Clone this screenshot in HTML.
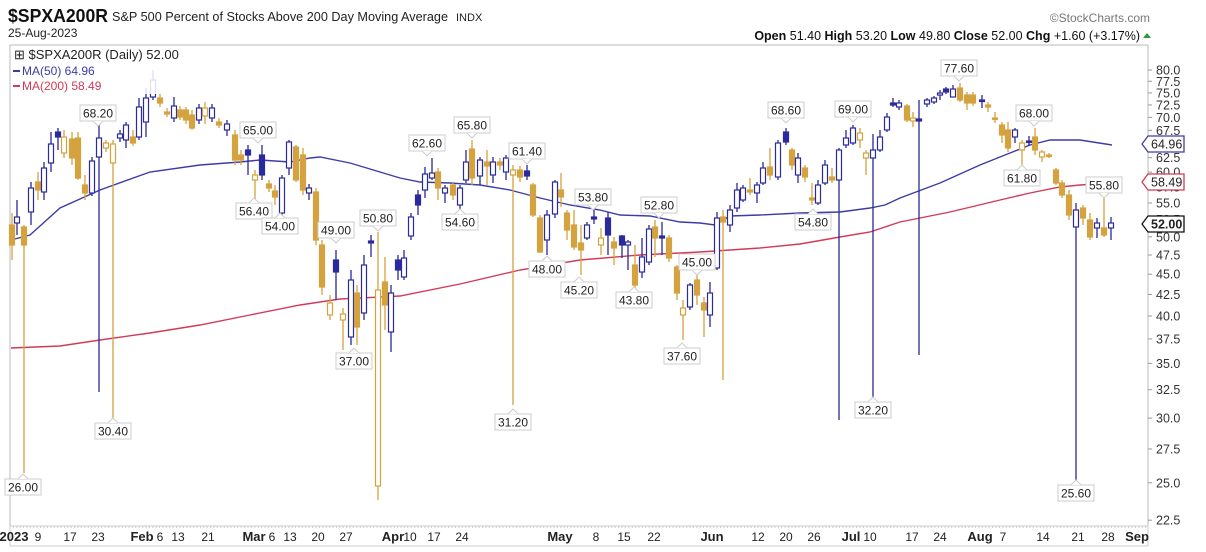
<!DOCTYPE html>
<html><head><meta charset="utf-8"><style>
body{margin:0;background:#fff;width:1206px;height:552px;overflow:hidden;font-family:"Liberation Sans",sans-serif}
svg{display:block}
</style></head><body>
<svg id="s" width="1206" height="552" xmlns="http://www.w3.org/2000/svg" font-family="Liberation Sans, sans-serif"></svg>
<script>
const s=document.getElementById('s');let h='';
const B='#2a2a9c',G='#d4a23e',MA='#3c3ca6',RD='#d23a56';
const L=10,R=1148,T=45,BOT=526;
function Y(v){return 70+(Math.log(80)-Math.log(v))*354.9;}
h+=`<text x="8" y="22" font-size="18" font-weight="bold" fill="#111" textLength="100" lengthAdjust="spacingAndGlyphs">$SPXA200R</text>
<text x="112" y="21" font-size="12.5" fill="#222" textLength="336" lengthAdjust="spacingAndGlyphs">S&amp;P 500 Percent of Stocks Above 200 Day Moving Average</text>
<text x="456" y="21" font-size="11" fill="#222">INDX</text>
<text x="8" y="37" font-size="12" fill="#222">25-Aug-2023</text>
<text x="1150" y="22" font-size="12" fill="#777" text-anchor="end">©StockCharts.com</text>
<text x="1140" y="40" font-size="12.5" fill="#111" text-anchor="end"><tspan font-weight="bold">Open</tspan> 51.40  <tspan font-weight="bold">High</tspan> 53.20  <tspan font-weight="bold">Low</tspan> 49.80  <tspan font-weight="bold">Close</tspan> 52.00  <tspan font-weight="bold">Chg</tspan> +1.60 (+3.17%)</text>
<polygon points="1143,38 1151,38 1147,33" fill="#2a9a3a"/>`;
h+=`<rect x="${L}" y="${T}" width="${R-L}" height="${BOT-T}" fill="#fff" stroke="#bbb"/>`;
const ticks=[80,77.5,75,72.5,70,67.5,65,62.5,60,57.5,55,52.5,50,47.5,45,42.5,40,37.5,35,32.5,30,27.5,25,22.5];
ticks.forEach(v=>{const y=Y(v);h+=`<line x1="${R}" y1="${y}" x2="${R+4}" y2="${y}" stroke="#999"/><text x="${R+8}" y="${y+4.5}" font-size="12.5" fill="#333">${v.toFixed(1)}</text>`;});
const C=[
[12,225,245,213,260,'G'],[17,217,223,200,235,'b'],[24,227,245,225,473,'G'],[31,188,212,182,225,'b'],[38,182,190,172,200,'G'],[44,168,192,162,200,'b'],[51,144,163,132,172,'b'],[58,132,137,128,150,'B'],[64,137,153,130,158,'g'],[72,139,158,132,165,'G'],[78,138,178,132,180,'G'],[85,185,193,175,200,'G'],[92,161,193,157,196,'b'],[99,138,157,122,392,'b'],[106,143,148,140,152,'g'],[113,144,163,140,418,'g'],[120,134,138,130,142,'b'],[126,125,140,122,148,'b'],[133,137,143,130,146,'G'],[139,107,137,98,140,'b'],[146,98,122,88,137,'b'],[153,80,97,70,100,'b'],[160,98,103,92,107,'G'],[167,112,114,108,117,'G'],[174,106,118,97,122,'b'],[180,110,117,106,120,'G'],[186,110,120,107,124,'G'],[192,115,128,110,130,'G'],[199,108,120,104,124,'b'],[205,108,116,102,124,'g'],[212,108,118,104,122,'b'],[219,122,125,118,128,'G'],[227,124,130,120,136,'b'],[235,135,160,130,165,'G'],[241,155,160,150,165,'G'],[248,150,155,145,175,'B'],[255,175,180,170,200,'g'],[262,155,175,145,180,'B'],[269,184,188,180,192,'G'],[275,191,197,185,205,'G'],[282,178,213,175,215,'b'],[289,142,168,140,175,'b'],[296,147,180,145,182,'G'],[303,155,190,148,195,'G'],[309,188,193,184,200,'b'],[316,192,240,188,245,'G'],[322,245,287,240,295,'G'],[330,303,315,295,320,'g'],[336,260,272,250,300,'B'],[343,314,320,308,350,'g'],[351,280,337,270,345,'b'],[357,293,327,285,345,'G'],[364,265,313,255,320,'b'],[371,241,243,235,257,'B'],[378,290,486,232,500,'g'],[385,282,305,257,330,'G'],[391,293,332,285,352,'b'],[398,260,270,255,280,'B'],[404,258,277,250,280,'b'],[411,217,236,213,240,'b'],[418,195,205,190,215,'B'],[425,174,190,167,198,'b'],[432,173,178,158,180,'b'],[438,172,188,168,200,'G'],[445,188,193,185,203,'b'],[453,185,195,183,200,'G'],[460,188,205,185,210,'b'],[466,162,180,150,183,'b'],[472,149,178,140,185,'G'],[480,160,176,157,185,'b'],[487,162,166,150,185,'G'],[493,162,175,157,183,'b'],[500,162,165,158,170,'G'],[506,158,172,155,180,'b'],[513,170,175,165,405,'g'],[520,170,177,166,182,'G'],[527,171,176,165,180,'B'],[533,185,215,183,217,'G'],[540,218,252,215,253,'G'],[547,215,240,210,255,'b'],[555,182,214,180,218,'b'],[561,190,197,173,207,'G'],[567,213,230,210,240,'G'],[574,225,247,210,250,'G'],[581,243,250,225,275,'G'],[587,225,238,222,240,'b'],[594,217,219,210,224,'B'],[601,238,245,228,255,'g'],[608,218,235,212,255,'B'],[614,242,248,237,265,'G'],[622,236,245,235,258,'B'],[628,242,245,240,270,'b'],[635,265,285,245,290,'G'],[642,257,272,238,278,'b'],[649,229,262,225,265,'b'],[655,227,238,220,257,'G'],[662,236,238,222,255,'B'],[669,238,258,235,262,'G'],[677,267,293,265,300,'G'],[683,308,315,300,340,'g'],[690,285,307,283,310,'b'],[697,280,295,275,305,'G'],[704,303,310,297,337,'G'],[710,293,315,282,327,'b'],[717,218,268,212,270,'b'],[723,217,222,210,380,'G'],[730,210,225,205,232,'b'],[737,190,208,183,212,'b'],[743,188,200,185,202,'b'],[750,190,192,178,195,'G'],[757,185,193,182,203,'b'],[763,168,183,162,185,'b'],[770,167,175,148,180,'G'],[778,143,177,140,180,'b'],[786,132,142,128,145,'B'],[792,150,165,148,170,'G'],[798,158,175,153,183,'b'],[805,168,177,165,182,'G'],[812,198,200,183,205,'G'],[818,185,203,180,205,'b'],[825,165,183,160,185,'b'],[832,177,180,168,183,'G'],[839,150,180,148,420,'b'],[846,138,145,130,148,'b'],[853,128,143,125,145,'b'],[860,133,140,128,148,'g'],[866,153,158,150,175,'g'],[873,150,158,134,398,'b'],[880,137,150,130,152,'b'],[887,117,130,113,132,'b'],[893,103,105,98,107,'B'],[899,103,107,100,110,'b'],[907,106,120,104,122,'G'],[913,118,121,112,127,'g'],[919,119,121,100,355,'B'],[927,100,104,98,107,'b'],[934,98,102,96,104,'b'],[940,93,95,90,100,'b'],[946,89,92,87,94,'B'],[953,89,97,85,97,'b'],[960,88,100,83,102,'G'],[967,95,103,92,110,'G'],[973,95,103,92,106,'G'],[982,100,101,95,108,'B'],[988,105,107,102,112,'G'],[995,118,119,112,123,'G'],[1002,125,135,122,143,'G'],[1008,130,148,122,152,'G'],[1015,130,137,128,143,'b'],[1022,143,150,140,165,'g'],[1029,141,142,136,146,'B'],[1035,137,150,128,155,'G'],[1042,152,157,150,162,'g'],[1049,155,156,153,158,'G'],[1056,170,183,168,185,'G'],[1062,183,195,180,198,'G'],[1069,195,215,190,220,'G'],[1076,210,227,203,483,'b'],[1083,208,218,205,225,'G'],[1090,220,237,213,240,'G'],[1097,223,228,218,238,'b'],[1104,228,235,195,237,'G'],[1111,223,228,217,240,'b']];
const m50=[[11,240],[30,235],[60,208],[100,190],[150,172],[200,165],[240,162],[260,160],[290,162],[310,158],[320,157],[350,163],[380,172],[400,178],[420,182],[450,183],[480,185],[510,190],[540,198],[570,205],[600,210],[620,215],[650,216],[680,222],[700,223],[715,225],[730,216],[760,215],[800,213],[840,212],[870,208],[885,205],[900,198],[940,183],[980,165],[1010,153],[1030,145],[1050,140],[1080,140],[1112,145]];
const m200=[[11,348],[60,346],[100,340],[150,333],[200,325],[250,315],[300,305],[340,299],[400,296],[460,284],[520,270],[580,260],[640,255],[700,252],[760,248],[800,244],[840,237],[870,232],[900,222],[950,212],[1000,200],[1030,193],[1060,187],[1080,185],[1112,183]];
h+=`<polyline points="${m200.map(p=>p.join(',')).join(' ')}" fill="none" stroke="${RD}" stroke-width="1.4"/>`;
h+=`<polyline points="${m50.map(p=>p.join(',')).join(' ')}" fill="none" stroke="${MA}" stroke-width="1.4"/>`;
C.forEach(([x,bt,bb,wt,wb,t])=>{const col=(t=='b'||t=='B')?B:G;const fill=(t=='B'||t=='G');
h+=`<line x1="${x}" y1="${wt}" x2="${x}" y2="${wb}" stroke="${col}" stroke-width="1.3"/>`;
const hh=Math.max(bb-bt,1.5);
h+=`<rect x="${x-2.5}" y="${bt}" width="5" height="${hh}" fill="${fill?col:'#fff'}" stroke="${col}" stroke-width="1.2"/>`;});
const labs=[['68.20',98,113,'d'],['26.00',23,487,'u'],['30.40',113,431,'u'],['65.00',258,130,'d'],['56.40',254,211,'u'],['54.00',280,226,'u'],['49.00',336,230,'d'],['50.80',378,218,'d'],['37.00',354,361,'u'],['62.60',427,143,'d'],['65.80',472,125,'d'],['54.60',460,222,'u'],['61.40',527,151,'d'],['31.20',513,422,'u'],['48.00',547,269,'u'],['53.80',593,197,'d'],['45.20',579,290,'u'],['43.80',634,300,'u'],['52.80',659,205,'d'],['45.00',697,262,'d'],['37.60',682,356,'u'],['68.60',786,110,'d'],['54.80',813,222,'u'],['69.00',853,109,'d'],['32.20',873,410,'u'],['77.60',959,68,'d'],['68.00',1034,113,'d'],['61.80',1022,178,'u'],['55.80',1104,185,'d'],['25.60',1076,493,'u']];
labs.forEach(([t,x,y,d])=>{h+=`<rect x="${x-18}" y="${y-8}" width="36" height="16" fill="#fff" stroke="#ccc"/>`;
if(d=='d')h+=`<polyline points="${x-5},${y+8} ${x},${y+13} ${x+5},${y+8}" fill="#fff" stroke="#ccc"/>`;else h+=`<polyline points="${x-5},${y-8} ${x},${y-13} ${x+5},${y-8}" fill="#fff" stroke="#ccc"/>`;
h+=`<text x="${x}" y="${y+4.5}" font-size="12" fill="#222" text-anchor="middle">${t}</text>`;});
h+=`<rect x="${L+1}" y="${T+1}" width="215" height="48" fill="#fff" opacity="0.85"/>
<text x="14" y="59" font-size="13" fill="#222">⊞ $SPXA200R (Daily) 52.00</text>
<line x1="13" y1="71" x2="20" y2="71" stroke="${MA}" stroke-width="2"/><text x="22" y="75" font-size="12" fill="${MA}">MA(50) 64.96</text>
<line x1="13" y1="86" x2="20" y2="86" stroke="${RD}" stroke-width="2"/><text x="22" y="90" font-size="12" fill="${RD}">MA(200) 58.49</text>`;
function vb(v,y,col,bold){h+=`<polygon points="${R-6},${y} ${R},${y-8} ${R+36},${y-8} ${R+36},${y+8} ${R},${y+8}" fill="#fff" stroke="${col}" stroke-width="1.3"/><text x="${R+3}" y="${y+4.5}" font-size="12.5" fill="#222" ${bold?'font-weight="bold"':''}>${v}</text>`;}
vb('64.96',144,MA);vb('58.49',182,RD);vb('52.00',224,'#111',true);
h+=`<rect x="${L}" y="${BOT}" width="${R-L}" height="20" fill="#fff" stroke="#ccc"/>`;
for(let x=L;x<R;x+=3.4)h+=`<line x1="${x}" y1="${BOT}" x2="${x}" y2="${BOT+2}" stroke="#ccc"/>`;
const dl=[['2023',14,1],['9',38],['17',70],['23',98],['Feb',142,1],['6',160],['13',178],['21',208],['Mar',254,1],['6',272],['13',290],['20',318],['27',346],['Apr',393,1],['10',410],['17',434],['24',462],['May',560,1],['8',596],['15',624],['22',654],['Jun',712,1],['12',758],['20',786],['26',814],['Jul',851,1],['10',870],['17',912],['24',940],['Aug',980,1],['7',1003],['14',1043],['21',1078],['28',1108],['Sep',1137,1]];
dl.forEach(([t,x,b])=>{h+=`<text x="${x}" y="541" font-size="${b?13:12}" ${b?'font-weight="bold"':''} fill="#222" text-anchor="middle">${t}</text>`;});
s.innerHTML=h;
</script>
</body></html>
